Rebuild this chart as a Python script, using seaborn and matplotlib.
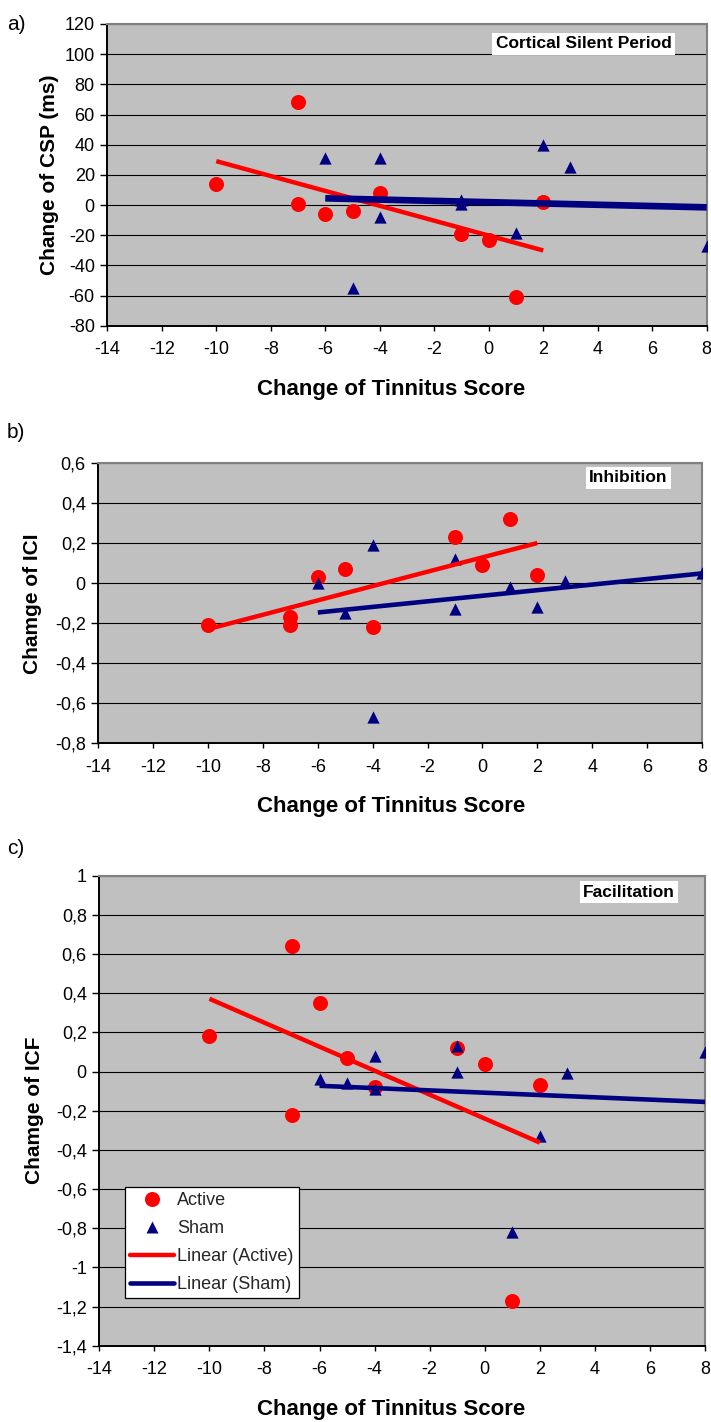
import matplotlib
matplotlib.use("Agg")
import matplotlib.pyplot as plt
import seaborn as sns
import pandas as pd
from matplotlib.lines import Line2D

# ---------------- data ----------------
groups = ["Active", "Sham"]
score_active = [-10, -7, -7, -6, -5, -4, -1, 0, 1, 2]
score_sham = [-6, -5, -4, -4, -1, -1, 1, 2, 3, 8]

csp_active = [14, 68, 1, -6, -4, 8, -19, -23, -61, 2]
csp_sham = [31, -55, 31, -8, 3, 0.8, -18.5, 39.5, 25, -27]

ici_active = [-0.21, -0.17, -0.21, 0.03, 0.07, -0.22, 0.23, 0.09, 0.32, 0.04]
ici_sham = [0.00, -0.15, 0.19, -0.67, 0.12, -0.13, -0.02, -0.12, 0.01, 0.05]

icf_active = [0.18, 0.64, -0.22, 0.35, 0.07, -0.08, 0.12, 0.04, -1.17, -0.07]
icf_sham = [-0.04, -0.06, 0.08, -0.09, 0.13, 0.00, -0.82, -0.33, -0.01, 0.10]

xticks = [-14, -12, -10, -8, -6, -4, -2, 0, 2, 4, 6, 8]
xtick_labels = ["-14", "-12", "-10", "-8", "-6", "-4", "-2", "0", "2", "4", "6", "8"]

yticks_a = [-80, -60, -40, -20, 0, 20, 40, 60, 80, 100, 120]
ytick_labels_a = ["-80", "-60", "-40", "-20", "0", "20", "40", "60", "80", "100", "120"]
yticks_b = [-0.8, -0.6, -0.4, -0.2, 0.0, 0.2, 0.4, 0.6]
ytick_labels_b = ["-0,8", "-0,6", "-0,4", "-0,2", "0", "0,2", "0,4", "0,6"]
yticks_c = [-1.4, -1.2, -1.0, -0.8, -0.6, -0.4, -0.2, 0.0, 0.2, 0.4, 0.6, 0.8, 1.0]
ytick_labels_c = ["-1,4", "-1,2", "-1", "-0,8", "-0,6", "-0,4", "-0,2", "0",
                  "0,2", "0,4", "0,6", "0,8", "1"]

panel_labels = ["a)", "b)", "c)"]
box_titles = ["Cortical Silent Period", "Inhibition", "Facilitation"]
ylabels = ["Change of CSP (ms)", "Chamge of ICI", "Chamge of ICF"]
xlabel_text = "Change of Tinnitus Score"
legend_labels = ["Active", "Sham", "Linear (Active)", "Linear (Sham)"]

# ---------------- tables ----------------
def make_df(active_vals, sham_vals):
    return pd.DataFrame({
        "score": score_active + score_sham,
        "value": active_vals + sham_vals,
        "group": [groups[0]] * len(score_active) + [groups[1]] * len(score_sham),
    })

dfs = [make_df(csp_active, csp_sham), make_df(ici_active, ici_sham), make_df(icf_active, icf_sham)]

# ---------------- style ----------------
sns.set_theme(style="white")
plt.rcParams["font.family"] = ["Liberation Sans", "DejaVu Sans"]

RED = "#FF0000"
NAVY = "#000080"
BG = "#C0C0C0"

W, H = 711, 1422
fig = plt.figure(figsize=(W / 100, H / 100), dpi=100)
fig.patch.set_facecolor("white")

def rect(l, t, r, b):
    return [l / W, 1 - b / H, (r - l) / W, (b - t) / H]

rects = [rect(107.3, 24, 706.7, 325.7), rect(98.3, 463.3, 702, 743.3), rect(99.3, 875.7, 705, 1345.7)]
ylims = [(-80, 120), (-0.8, 0.6), (-1.4, 1.0)]
yticks_all = [yticks_a, yticks_b, yticks_c]
ytl_all = [ytick_labels_a, ytick_labels_b, ytick_labels_c]
sham_lw = [4.8, 3.3, 3.3]
title_pos = [(0.795, 0.935), (0.878, 0.949), (0.8745, 0.965)]
ylabel_x = [-0.0956, -0.1098, -0.1078]
xlabel_pos = [(0.4733, -0.2131), (0.4849, -0.2275), (0.4816, -0.1368)]
panel_label_y = [24, 433, 849]

for i, df in enumerate(dfs):
    ax = fig.add_axes(rects[i])
    ax.set_facecolor(BG)
    ax.set_axisbelow(True)
    act = df[df["group"] == groups[0]]
    sh = df[df["group"] == groups[1]]
    sns.regplot(data=act, x="score", y="value", ax=ax, ci=None, truncate=True,
                marker="o", color=RED,
                scatter_kws=dict(s=117, linewidths=0, zorder=3, alpha=1),
                line_kws=dict(lw=3.2, zorder=4, solid_capstyle="butt"))
    sns.regplot(data=sh, x="score", y="value", ax=ax, ci=None, truncate=True,
                marker="^", color=NAVY,
                scatter_kws=dict(s=78, linewidths=0, zorder=3, alpha=1),
                line_kws=dict(lw=sham_lw[i], zorder=4, solid_capstyle="butt"))
    ax.set_xlim(-14, 8)
    ax.set_ylim(*ylims[i])
    ax.set_xticks(xticks)
    ax.set_xticklabels(xtick_labels)
    ax.set_yticks(yticks_all[i])
    ax.set_yticklabels(ytl_all[i])
    ax.yaxis.grid(True, color="black", lw=0.8)
    ax.xaxis.grid(False)
    ax.tick_params(axis="both", which="major", direction="out", width=1,
                   color="black", labelsize=13, labelcolor="black", left=True, bottom=True)
    ax.tick_params(axis="y", pad=4, length=5)
    ax.tick_params(axis="x", pad=7.5, length=3.6)
    for s in ["top", "right"]:
        ax.spines[s].set_color("#808080")
        ax.spines[s].set_linewidth(1.5)
    for s in ["left", "bottom"]:
        ax.spines[s].set_color("black")
        ax.spines[s].set_linewidth(1.4)
    ax.set_ylabel(ylabels[i], fontsize=15, fontweight="bold", color="black", va="center")
    ax.yaxis.set_label_coords(ylabel_x[i], 0.5)
    ax.set_xlabel(xlabel_text, fontsize=16, fontweight="bold", color="black", va="center")
    ax.xaxis.set_label_coords(*xlabel_pos[i])
    ax.text(title_pos[i][0], title_pos[i][1], box_titles[i], transform=ax.transAxes,
            ha="center", va="center", fontsize=12.5, fontweight="bold", color="black",
            bbox=dict(facecolor="white", edgecolor="none", pad=2.5), zorder=6)
    fig.text(7 / W, 1 - panel_label_y[i] / H, panel_labels[i], ha="left", va="center",
             fontsize=15, color="black")

    if i == 2:
        handles = [
            Line2D([], [], ls="none", marker="o", color=RED, ms=10.8, mec="none"),
            Line2D([], [], ls="none", marker="^", color=NAVY, ms=8.8, mec="none"),
            Line2D([], [], color=RED, lw=3.2),
            Line2D([], [], color=NAVY, lw=3.3),
        ]
        leg = ax.legend(handles, legend_labels, loc="upper left",
                        bbox_to_anchor=(125 / W, 1 - 1187 / H), bbox_transform=fig.transFigure,
                        borderaxespad=0, fontsize=13, frameon=True, fancybox=False,
                        framealpha=1, edgecolor="black", facecolor="white",
                        borderpad=0.3, labelspacing=0.6, handlelength=2.4,
                        handletextpad=0.2)
        leg.get_frame().set_linewidth(0.9)
        leg.set_zorder(7)

fig.savefig("out.png", dpi=100, facecolor="white")
